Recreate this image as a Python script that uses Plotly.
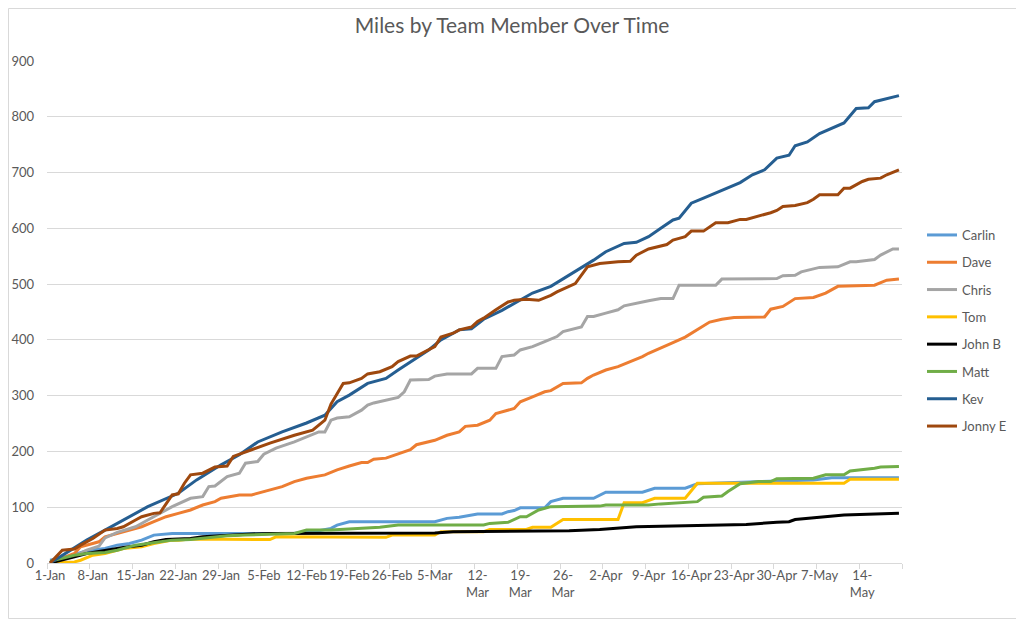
import pandas as pd
import plotly.graph_objects as go

START = "2017-01-01"

# ---- data: (day offset from 1-Jan, cumulative miles) ----
carlin_day = [0, 3, 6, 9, 11, 13, 15, 17, 20, 40, 44, 46, 47, 49, 63, 65, 67, 70, 74, 75, 76, 77, 81, 82, 84, 89, 91, 97, 99, 104, 106, 125, 128, 139]
carlin_miles = [5, 12, 22, 26, 32, 35, 41, 50, 53, 53, 58, 62, 68, 74, 74, 80, 82, 88, 88, 92, 94, 99, 99, 110, 116, 116, 127, 127, 134, 134, 142, 149, 153, 153]

dave_day = [0, 4, 5, 8, 9, 12, 15, 17, 19, 21, 23, 25, 27, 28, 31, 33, 35, 38, 40, 42, 45, 47, 49, 51, 52, 53, 55, 57, 59, 60, 63, 65, 67, 68, 70, 72, 73, 76, 77, 79, 81, 82, 84, 87, 88, 89, 91, 93, 95, 97, 98, 100, 102, 104, 106, 108, 110, 112, 117, 118, 120, 122, 125, 127, 129, 131, 135, 137, 139]
dave_miles = [0, 17, 29, 38, 47, 56, 65, 74, 83, 89, 95, 104, 110, 116, 122, 122, 128, 137, 146, 152, 158, 167, 174, 180, 180, 186, 188, 195, 203, 212, 220, 229, 235, 245, 247, 256, 268, 277, 289, 298, 307, 309, 322, 323, 331, 337, 346, 352, 361, 370, 376, 385, 395, 405, 418, 432, 437, 440, 441, 455, 460, 474, 476, 484, 496, 497, 498, 507, 509]

chris_day = [0, 2, 4, 6, 8, 9, 11, 14, 16, 20, 23, 25, 26, 27, 29, 31, 32, 34, 35, 37, 40, 42, 44, 45, 46, 47, 49, 51, 52, 53, 55, 57, 58, 59, 62, 63, 65, 69, 70, 73, 74, 76, 77, 79, 81, 83, 84, 86, 87, 88, 89, 91, 93, 94, 96, 98, 100, 102, 103, 109, 110, 112, 119, 120, 122, 123, 124, 126, 129, 131, 132, 134, 135, 136, 138, 139]
chris_miles = [0, 8, 12, 23, 30, 45, 55, 65, 77, 101, 116, 119, 137, 138, 155, 161, 179, 182, 195, 206, 217, 226, 235, 235, 256, 260, 262, 274, 283, 287, 292, 297, 307, 328, 329, 335, 339, 339, 349, 349, 370, 373, 382, 388, 397, 406, 415, 421, 423, 442, 442, 448, 454, 461, 466, 470, 474, 474, 498, 498, 509, 509, 510, 515, 516, 522, 525, 530, 531, 540, 540, 543, 544, 552, 563, 563]

tom_day = [0, 4, 5, 7, 9, 12, 15, 17, 20, 21, 23, 27, 29, 36, 37, 47, 55, 56, 63, 64, 71, 72, 78, 79, 82, 84, 93, 94, 97, 99, 104, 106, 130, 131, 139]
tom_miles = [0, 2, 5, 14, 17, 26, 29, 35, 41, 41, 43, 43, 42, 42, 47, 47, 46, 50, 50, 56, 56, 60, 60, 64, 64, 78, 78, 108, 108, 116, 116, 143, 143, 150, 150]

johnb_day = [0, 2, 4, 6, 9, 12, 15, 17, 19, 23, 25, 29, 33, 36, 41, 49, 63, 66, 85, 90, 96, 104, 114, 119, 121, 122, 127, 130, 139]
johnb_miles = [0, 5, 11, 17, 23, 28, 32, 38, 42, 44, 47, 50, 52, 53, 53, 54, 54, 56, 58, 60, 65, 67, 69, 73, 74, 78, 83, 86, 89]

matt_day = [0, 4, 6, 9, 11, 14, 16, 18, 20, 23, 25, 29, 32, 36, 40, 42, 46, 54, 57, 71, 72, 75, 76, 77, 78, 80, 82, 90, 91, 98, 100, 106, 107, 110, 111, 113, 116, 118, 119, 125, 127, 130, 131, 133, 135, 136, 138, 139]
matt_miles = [3, 14, 17, 19, 23, 32, 35, 38, 41, 42, 44, 49, 50, 52, 53, 59, 59, 64, 68, 68, 71, 73, 78, 83, 83, 95, 101, 102, 104, 104, 106, 110, 118, 120, 128, 142, 146, 146, 151, 152, 158, 158, 165, 167, 170, 172, 173, 173]

kev_day = [0, 6, 9, 13, 16, 21, 24, 28, 31, 34, 38, 42, 45, 47, 49, 52, 55, 57, 59, 62, 64, 67, 69, 71, 74, 76, 79, 82, 85, 88, 89, 91, 94, 96, 98, 100, 102, 103, 105, 107, 109, 111, 113, 115, 117, 119, 121, 122, 124, 126, 128, 130, 132, 134, 135, 137, 139]
kev_miles = [0, 41, 59, 83, 101, 125, 149, 176, 194, 217, 235, 251, 265, 289, 301, 322, 331, 346, 361, 382, 400, 418, 420, 437, 453, 466, 484, 496, 516, 536, 543, 558, 573, 575, 585, 600, 615, 618, 645, 654, 663, 672, 682, 696, 705, 726, 731, 748, 755, 770, 779, 789, 815, 816, 827, 833, 838]

jonny_day = [0, 2, 4, 5, 7, 9, 11, 12, 14, 15, 17, 18, 20, 21, 22, 23, 25, 27, 29, 30, 33, 36, 40, 43, 45, 46, 48, 49, 51, 52, 54, 56, 57, 59, 60, 62, 63, 64, 66, 67, 69, 70, 71, 73, 75, 76, 78, 80, 82, 83, 86, 88, 90, 93, 95, 96, 98, 101, 102, 104, 105, 107, 109, 111, 113, 114, 116, 117, 118, 119, 120, 122, 124, 125, 126, 129, 130, 131, 132, 133, 134, 136, 137, 139]
jonny_miles = [0, 23, 25, 32, 44, 59, 62, 65, 77, 83, 89, 90, 122, 124, 143, 158, 161, 172, 174, 191, 203, 215, 229, 238, 256, 285, 322, 323, 331, 339, 343, 352, 361, 371, 371, 382, 388, 405, 412, 418, 423, 433, 439, 454, 468, 471, 473, 471, 480, 486, 501, 531, 537, 540, 541, 552, 563, 571, 579, 585, 595, 595, 610, 610, 616, 616, 622, 624, 628, 632, 639, 641, 646, 652, 660, 660, 672, 672, 678, 684, 688, 690, 696, 705]

series_names = ["Carlin", "Dave", "Chris", "Tom", "John B", "Matt", "Kev", "Jonny E"]
series_days = [carlin_day, dave_day, chris_day, tom_day, johnb_day, matt_day, kev_day, jonny_day]
series_miles = [carlin_miles, dave_miles, chris_miles, tom_miles, johnb_miles, matt_miles, kev_miles, jonny_miles]
series_colors = ["#5B9BD5", "#ED7D31", "#A5A5A5", "#FFC000", "#000000", "#70AD47", "#255E91", "#9E480E"]

tick_dates = ["2017-01-01", "2017-01-08", "2017-01-15", "2017-01-22", "2017-01-29", "2017-02-05",
              "2017-02-12", "2017-02-19", "2017-02-26", "2017-03-05", "2017-03-12", "2017-03-19",
              "2017-03-26", "2017-04-02", "2017-04-09", "2017-04-16", "2017-04-23", "2017-04-30",
              "2017-05-07", "2017-05-14"]
tick_text = ["1-Jan", "8-Jan", "15-Jan", "22-Jan", "29-Jan", "5-Feb", "12-Feb", "19-Feb", "26-Feb",
             "5-Mar", "12-<br>Mar", "19-<br>Mar", "26-<br>Mar", "2-Apr", "9-Apr", "16-Apr", "23-Apr",
             "30-Apr", "7-May", "14-<br>May"]

FONT = "Lato"
TXT = "#595959"
GRID = "#D9D9D9"

fig = go.Figure()
start = pd.Timestamp(START)
for name, days, miles, color in zip(series_names, series_days, series_miles, series_colors):
    dates = start + pd.to_timedelta(days, unit="D")
    fig.add_trace(go.Scatter(
        x=dates, y=miles, name=name, mode="lines",
        line=dict(color=color, width=3), legendgroup=name,
    ))

# page body has an 8px margin: size/offset the figure so it lands where the reference is
OFF = 8
W, H = 1024 - OFF, 619 - OFF
L, T = 47 - OFF, 61 - OFF
R, B = 122, 56
pw, ph = W - L - R, H - T - B
y0px = H - B  # pixel row of the x axis within the figure

fig.update_layout(
    width=W, height=H,
    margin=dict(l=L, r=R, t=T, b=B, pad=0, autoexpand=False),
    paper_bgcolor="white", plot_bgcolor="white",
    font=dict(family=FONT, size=13, color=TXT),
    title=dict(text="Miles by Team Member Over Time", x=(512 - OFF) / W, xanchor="center",
               y=1 - (26 - OFF) / H, yanchor="middle", yref="container",
               font=dict(family=FONT, size=21, color=TXT)),
    showlegend=True,
    legend=dict(x=(922 - OFF - L) / pw, y=(y0px - (220 - OFF)) / ph, xanchor="left", yanchor="top",
                font=dict(family=FONT, size=13, color=TXT), tracegroupgap=7.4,
                bgcolor="rgba(0,0,0,0)"),
    xaxis=dict(
        type="date", automargin=False,
        range=["2016-12-31 12:00", "2017-05-20 12:00"],
        tickmode="array", tickvals=tick_dates, ticktext=tick_text, tickangle=0,
        ticks="", showgrid=False,
        showline=True, linecolor=GRID, linewidth=1,
        tickfont=dict(family=FONT, size=13, color=TXT),
        minor=dict(ticks="outside", tickmode="linear", tick0="2016-12-31 12:00",
                   dtick=7 * 86400000, ticklen=5, tickcolor=GRID, tickwidth=1, showgrid=False),
        fixedrange=True,
    ),
    yaxis=dict(
        automargin=False,
        range=[0, 900], tickmode="linear", tick0=0, dtick=100,
        showgrid=True, gridcolor=GRID, gridwidth=1,
        zeroline=False, showline=False, ticks="",
        ticklabelstandoff=12,
        tickfont=dict(family=FONT, size=13, color=TXT),
        fixedrange=True,
    ),
    shapes=[dict(type="rect", xref="paper", yref="paper",
                 x0=(0.5 - L) / pw, x1=(W - 0.5 - L) / pw,
                 y0=(y0px - (H - 0.5)) / ph, y1=(y0px - 0.5) / ph,
                 line=dict(color=GRID, width=1), fillcolor="rgba(0,0,0,0)", layer="below")],
)

fig.write_html("out.html")
